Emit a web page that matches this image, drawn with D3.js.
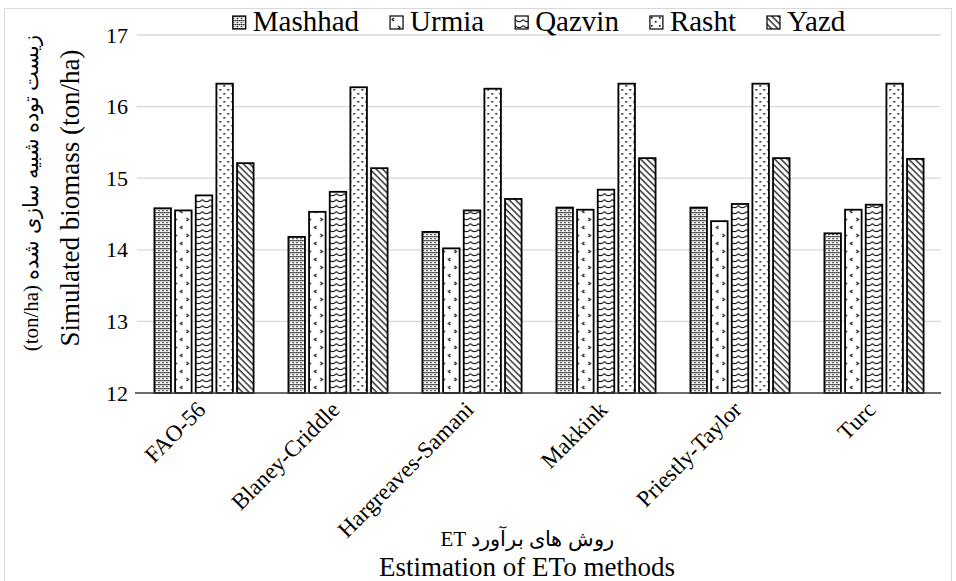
<!DOCTYPE html>
<html>
<head>
<meta charset="utf-8">
<script src="https://cdn.jsdelivr.net/npm/d3@7"></script>
<style>
  body { margin: 0; background: #fff; }
  text { font-family: "Liberation Serif", serif; fill: #000; }
</style>
</head>
<body>
<div id="chart"></div>
<script>
// Data
const methods = ["FAO-56", "Blaney-Criddle", "Hargreaves-Samani", "Makkink", "Priestly-Taylor", "Turc"];
const cities = ["Mashhad", "Urmia", "Qazvin", "Rasht", "Yazd"];
const mashhad = [14.58, 14.18, 14.25, 14.59, 14.59, 14.23];
const urmia   = [14.55, 14.53, 14.02, 14.56, 14.40, 14.56];
const qazvin  = [14.76, 14.81, 14.55, 14.84, 14.64, 14.63];
const rasht   = [16.32, 16.27, 16.25, 16.32, 16.32, 16.32];
const yazd    = [15.21, 15.14, 14.71, 15.28, 15.28, 15.27];
const yTicks = [12, 13, 14, 15, 16, 17];

const seriesValues = [mashhad, urmia, qazvin, rasht, yazd];

const width = 956, height = 581;
const plot = { left: 137, right: 941, top: 35, bottom: 393 };
const serif = '"Liberation Serif", serif';

const svg = d3.select("#chart").append("svg")
    .attr("width", width)
    .attr("height", height);

// Patterns
const defs = svg.append("defs");

function pattern(id, w, h) {
    const p = defs.append("pattern")
        .attr("id", id)
        .attr("patternUnits", "userSpaceOnUse")
        .attr("width", w)
        .attr("height", h);
    p.append("rect").attr("width", w).attr("height", h).attr("fill", "#fff");
    return p;
}

// Mashhad: dotted grid
const pM = pattern("pat-0", 4, 4);
[[0, 0], [2, 0], [0, 2]].forEach(([x, y]) => {
    pM.append("rect").attr("x", x).attr("y", y).attr("width", 1.3).attr("height", 1.3).attr("fill", "#000");
});

// Urmia: divots
const pU = pattern("pat-1", 12, 16);
pU.append("path").attr("d", "M4,2 L2,3.5 L4,5").attr("fill", "none").attr("stroke", "#000").attr("stroke-width", 1.1);
pU.append("path").attr("d", "M8,10 L10,11.5 L8,13").attr("fill", "none").attr("stroke", "#000").attr("stroke-width", 1.1);

// Qazvin: wave
const pQ = pattern("pat-2", 8, 6);
pQ.append("path").attr("d", "M0,1.5 Q4,6 8,1.5").attr("fill", "none").attr("stroke", "#000").attr("stroke-width", 1.1);

// Rasht: sparse dots
const pR = pattern("pat-3", 8, 8);
[[1, 1], [5, 5]].forEach(([x, y]) => {
    pR.append("rect").attr("x", x).attr("y", y).attr("width", 1.6).attr("height", 1.6).attr("fill", "#000");
});

// Yazd: downward diagonal
const pY = pattern("pat-4", 4.5, 4.5).attr("patternTransform", "rotate(-45)");
pY.append("line").attr("x1", 1).attr("x2", 1).attr("y1", 0).attr("y2", 4.5)
    .attr("stroke", "#000").attr("stroke-width", 1.2);

// Outer chart border
svg.append("rect")
    .attr("x", 4.5).attr("y", 8.5)
    .attr("width", 947).attr("height", 600)
    .attr("fill", "none")
    .attr("stroke", "#d9d9d9");

// Scales
const x0 = d3.scaleBand()
    .domain(methods)
    .range([plot.left, plot.right])
    .paddingInner(0.26)
    .paddingOuter(0.13);

const x1 = d3.scaleBand()
    .domain(cities)
    .range([0, x0.bandwidth()])
    .paddingInner(0.2);

const y = d3.scaleLinear()
    .domain([12, 17])
    .range([plot.bottom, plot.top]);

// Gridlines
svg.append("g")
    .selectAll("line")
    .data(yTicks.filter(d => d > 12))
    .join("line")
    .attr("x1", plot.left).attr("x2", plot.right)
    .attr("y1", d => y(d)).attr("y2", d => y(d))
    .attr("stroke", "#d9d9d9")
    .attr("stroke-width", 1.3);

// Y axis labels
const yAxis = svg.append("g")
    .attr("transform", `translate(${plot.left},0)`)
    .call(d3.axisLeft(y).tickValues(yTicks).tickFormat(d3.format("d")).tickSize(0).tickPadding(9));
yAxis.select(".domain").remove();
yAxis.attr("font-family", null);
yAxis.selectAll("text")
    .style("font-family", serif)
    .style("font-size", "22px")
    .attr("fill", "#000");

// Bars
const groups = svg.append("g")
    .selectAll("g")
    .data(methods)
    .join("g")
    .attr("transform", d => `translate(${x0(d)},0)`);

groups.selectAll("rect")
    .data((m, i) => cities.map((c, j) => ({ city: c, idx: j, value: seriesValues[j][i] })))
    .join("rect")
    .attr("x", d => x1(d.city))
    .attr("y", d => y(d.value))
    .attr("width", x1.bandwidth())
    .attr("height", d => y(12) - y(d.value))
    .attr("fill", d => `url(#pat-${d.idx})`)
    .attr("stroke", "#000")
    .attr("stroke-width", 1.8);

// X axis baseline
svg.append("line")
    .attr("x1", plot.left - 2).attr("x2", plot.right)
    .attr("y1", y(12)).attr("y2", y(12))
    .attr("stroke", "#3a3a3a")
    .attr("stroke-width", 1.5);

// X category labels
svg.append("g")
    .selectAll("text")
    .data(methods)
    .join("text")
    .attr("transform", d => `translate(${x0(d) + x0.bandwidth() / 2 + 3},${plot.bottom + 18}) rotate(-45)`)
    .attr("text-anchor", "end")
    .style("font-size", "23px")
    .text(d => d);

// Axis titles
svg.append("text")
    .attr("x", 527).attr("y", 546)
    .attr("text-anchor", "middle")
    .style("font-size", "21px")
    .text("ET روش های برآورد");

svg.append("text")
    .attr("x", 527).attr("y", 576)
    .attr("text-anchor", "middle")
    .style("font-size", "27px")
    .text("Estimation of ETo methods");

svg.append("text")
    .attr("transform", "translate(79,198) rotate(-90)")
    .attr("text-anchor", "middle")
    .style("font-size", "27px")
    .text("Simulated biomass (ton/ha)");

svg.append("text")
    .attr("transform", "translate(38,193) rotate(-90)")
    .attr("text-anchor", "middle")
    .style("font-size", "21px")
    .text("(ton/ha) زیست توده شبیه سازی شده");

// Legend
const legend = svg.append("g");
let lx = 0;
cities.forEach((c, i) => {
    const item = legend.append("g").attr("transform", `translate(${lx},0)`);
    item.append("rect")
        .attr("x", 0).attr("y", 16)
        .attr("width", 13).attr("height", 13)
        .attr("fill", `url(#pat-${i})`)
        .attr("stroke", "#000")
        .attr("stroke-width", 1.2);
    const t = item.append("text")
        .attr("x", 20).attr("y", 31)
        .style("font-size", "29px")
        .text(c);
    lx += 20 + t.node().getComputedTextLength() + 31;
});
const legendWidth = lx - 31;
legend.attr("transform", `translate(${(plot.left + plot.right) / 2 - legendWidth / 2},0)`);
</script>
</body>
</html>
